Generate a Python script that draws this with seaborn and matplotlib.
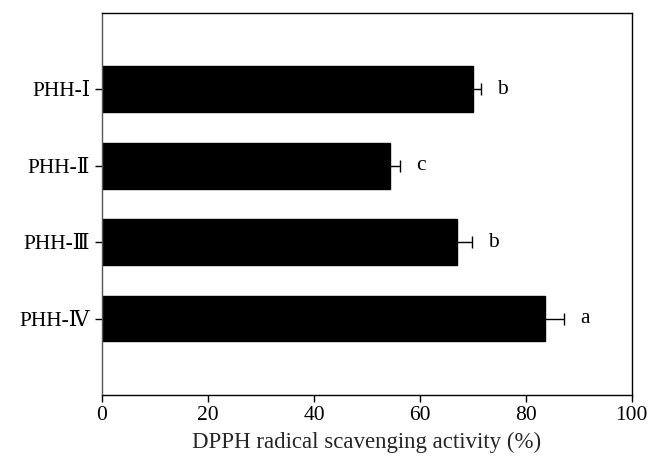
import matplotlib
matplotlib.use("Agg")
import matplotlib.pyplot as plt
import seaborn as sns
import pandas as pd

categories = ["PHH-Ⅰ", "PHH-Ⅱ", "PHH-Ⅲ", "PHH-Ⅳ"]
values = [70.0, 54.3, 67.0, 83.6]
errors = [1.6, 1.9, 2.8, 3.6]
letters = ["b", "c", "b", "a"]

sns.set_theme(style="ticks")
plt.rcParams["font.family"] = ["Liberation Serif", "DejaVu Serif", "Noto Sans CJK SC"]

df = pd.DataFrame({"cat": categories, "val": values})

fig = plt.figure(figsize=(6.5, 4.63), dpi=100)
ax = fig.add_axes([0.157, 0.147, 0.815, 0.825])

sns.barplot(data=df, x="val", y="cat", orient="h", color="black",
            width=0.6, errorbar=None, ax=ax, saturation=1)
for p in ax.patches:
    p.set_edgecolor("black")

ypos = list(range(len(categories)))
ends = [v + e for v, e in zip(values, errors)]
ax.errorbar(values, ypos, xerr=[[0] * len(errors), errors], fmt="none",
            ecolor="black", elinewidth=1, capsize=0)
ax.scatter(ends, ypos, marker="|", s=80, color="black", linewidths=1, zorder=3)

for y, x, l in zip(ypos, ends, letters):
    ax.text(x + 4.0, y, l, ha="center", va="center", fontsize=15.5,
            color="black")

ax.set_xlim(0, 100)
ax.set_ylim(4, -1)
ax.set_xticks([0, 20, 40, 60, 80, 100])
ax.set_xlabel("DPPH radical scavenging activity (%)", fontsize=16.5, labelpad=5)
ax.set_ylabel("")
ax.tick_params(axis="both", labelsize=15.5, direction="out", length=5,
               width=1, color="black", labelcolor="black")
ax.tick_params(axis="x", pad=3)
for s in ax.spines.values():
    s.set_visible(True)
    s.set_color("black")
    s.set_linewidth(1.0)
ax.spines["left"].set_color("#555555")

fig.savefig("out.png", dpi=100)
